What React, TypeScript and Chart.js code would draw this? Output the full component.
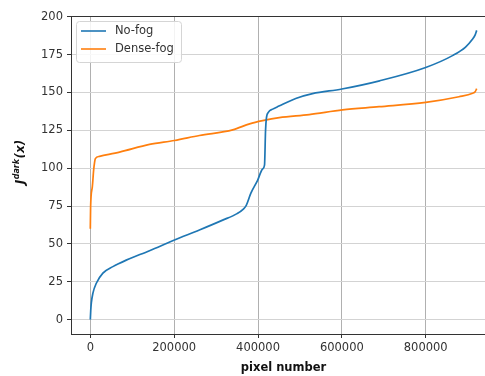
import React, { useEffect, useRef } from "react";
import { Chart, registerables } from "chart.js";

Chart.register(...registerables);

const seriesLabels = ["No-fog", "Dense-fog"];
const seriesColors = ["#1f77b4", "#ff7f0e"];

const noFogX = [0, 1000, 2400, 6200, 14300, 30000, 53800, 85700, 141200, 200700, 260200, 315700, 350000, 365000, 372000, 383000, 399000, 411000, 415500, 418000, 420000, 425000, 435000, 450000, 490000, 530000, 600000, 690000, 800000, 865000, 895000, 911000, 918000, 921600];
const noFogY = [0, 6, 11, 17.5, 24, 30.7, 35, 39.3, 45.5, 52.6, 59.2, 65.7, 70, 73, 75.5, 83.5, 92, 99.5, 102, 125, 133, 137, 139, 141, 146, 149.2, 152.3, 157.7, 166.5, 174.5, 180, 185, 188, 191];

const denseFogX = [0, 700, 4760, 7860, 10240, 12000, 22100, 69800, 141200, 200700, 260200, 339600, 380000, 411000, 450700, 522000, 601400, 688800, 800000, 879300, 912000, 918000, 921600];
const denseFogY = [60, 74.5, 87.6, 98.6, 104, 106.3, 107.8, 110.6, 115.7, 118.3, 121.6, 125.3, 129.3, 131.4, 133.4, 135.4, 138.5, 140.6, 143.5, 147.2, 149.5, 150.5, 152.5];

const xTicks = [0, 200000, 400000, 600000, 800000];
const yTicks = [0, 25, 50, 75, 100, 125, 150, 175, 200];

const xTitle = "pixel number";

const FONT = "'DejaVu Sans', sans-serif";

const framePlugin = {
  id: "frame",
  afterDraw(chart: any) {
    const { ctx, chartArea } = chart;
    ctx.save();
    ctx.strokeStyle = "#333";
    ctx.lineWidth = 1;
    ctx.beginPath();
    ctx.moveTo(chartArea.left, chartArea.top + 0.5);
    ctx.lineTo(chartArea.right, chartArea.top + 0.5);
    ctx.stroke();

    // legend
    const bx = chartArea.left + 5;
    const by = chartArea.top + 5;
    const bw = 105;
    const bh = 41;
    ctx.fillStyle = "rgba(255,255,255,0.85)";
    ctx.strokeStyle = "#d5d5d5";
    ctx.beginPath();
    if (ctx.roundRect) ctx.roundRect(bx + 0.5, by + 0.5, bw, bh, 3);
    else ctx.rect(bx + 0.5, by + 0.5, bw, bh);
    ctx.fill();
    ctx.stroke();
    ctx.font = `11.5px ${FONT}`;
    ctx.textBaseline = "middle";
    ctx.textAlign = "left";
    chart.data.datasets.forEach((ds: any, i: number) => {
      const y = by + 10 + i * 18;
      ctx.strokeStyle = ds.borderColor;
      ctx.lineWidth = 1.6;
      ctx.beginPath();
      ctx.moveTo(bx + 5, y);
      ctx.lineTo(bx + 30, y);
      ctx.stroke();
      ctx.fillStyle = "#333";
      ctx.fillText(ds.label, bx + 39, y);
    });

    // y title: J^dark(x)
    ctx.translate(24, 162);
    ctx.rotate(-Math.PI / 2);
    const big = `italic bold 12px ${FONT}`;
    const small = `italic bold 8px ${FONT}`;
    ctx.textBaseline = "alphabetic";
    ctx.font = big;
    const wJ = ctx.measureText("J").width;
    const wX = ctx.measureText("(x)").width;
    ctx.font = small;
    const wD = ctx.measureText("dark").width;
    const total = wJ + wD + wX + 1;
    let x = -total / 2;
    ctx.fillStyle = "#111";
    ctx.font = big;
    ctx.fillText("J", x, 0);
    x += wJ + 0.5;
    ctx.font = small;
    ctx.fillText("dark", x, -5);
    x += wD + 0.5;
    ctx.font = big;
    ctx.fillText("(x)", x, 0);
    ctx.restore();
  },
};

export default function App() {
  const ref = useRef<HTMLCanvasElement>(null);
  useEffect(() => {
    if (!ref.current) return;
    const toPts = (xs: number[], ys: number[]) => xs.map((x, i) => ({ x, y: ys[i] }));
    const chart = new Chart(ref.current, {
      type: "line",
      data: {
        datasets: [
          {
            label: seriesLabels[0],
            data: toPts(noFogX, noFogY),
            borderColor: seriesColors[0],
            backgroundColor: seriesColors[0],
            borderWidth: 1.7,
            pointRadius: 0,
            cubicInterpolationMode: "monotone",
          },
          {
            label: seriesLabels[1],
            data: toPts(denseFogX, denseFogY),
            borderColor: seriesColors[1],
            backgroundColor: seriesColors[1],
            borderWidth: 1.7,
            pointRadius: 0,
            cubicInterpolationMode: "monotone",
          },
        ],
      },
      options: {
        responsive: false,
        animation: false,
        layout: { padding: { top: 16, left: 0, right: 4, bottom: 0 } },
        plugins: { legend: { display: false }, tooltip: { enabled: false } },
        scales: {
          x: {
            type: "linear",
            min: -46080,
            max: 967680,
            afterBuildTicks: (s: any) => {
              s.ticks = xTicks.map((v) => ({ value: v }));
            },
            afterFit: (s: any) => {
              s.height = 42;
            },
            ticks: {
              font: { family: FONT, size: 11.5 },
              color: "#333",
              padding: 3,
              maxRotation: 0,
              autoSkip: false,
              callback: (v: any) => String(v),
            },
            grid: { color: "#b0b0b0", tickColor: "#333", tickLength: 4, lineWidth: 1 },
            border: { color: "#333", width: 1 },
            title: {
              display: true,
              text: xTitle,
              font: { family: FONT, size: 11.5, weight: "bold" },
              color: "#111",
              padding: { top: 0, bottom: 1 },
            },
          },
          y: {
            type: "linear",
            min: -9.5,
            max: 200.5,
            afterBuildTicks: (s: any) => {
              s.ticks = yTicks.map((v) => ({ value: v }));
            },
            afterFit: (s: any) => {
              s.width = 71;
            },
            ticks: {
              font: { family: FONT, size: 11.5 },
              color: "#333",
              padding: 4,
              autoSkip: false,
              callback: (v: any) => String(v),
            },
            grid: { color: "#d3d3d3", tickColor: "#333", tickLength: 4, lineWidth: 1 },
            border: { color: "#333", width: 1 },
          },
        },
      },
      plugins: [framePlugin],
    });
    return () => chart.destroy();
  }, []);
  return (
    <div style={{ position: "fixed", left: 0, top: 0, width: 485, height: 376, overflow: "hidden", background: "#fff" }}>
      <canvas ref={ref} width={500} height={376} style={{ display: "block" }} />
    </div>
  );
}
